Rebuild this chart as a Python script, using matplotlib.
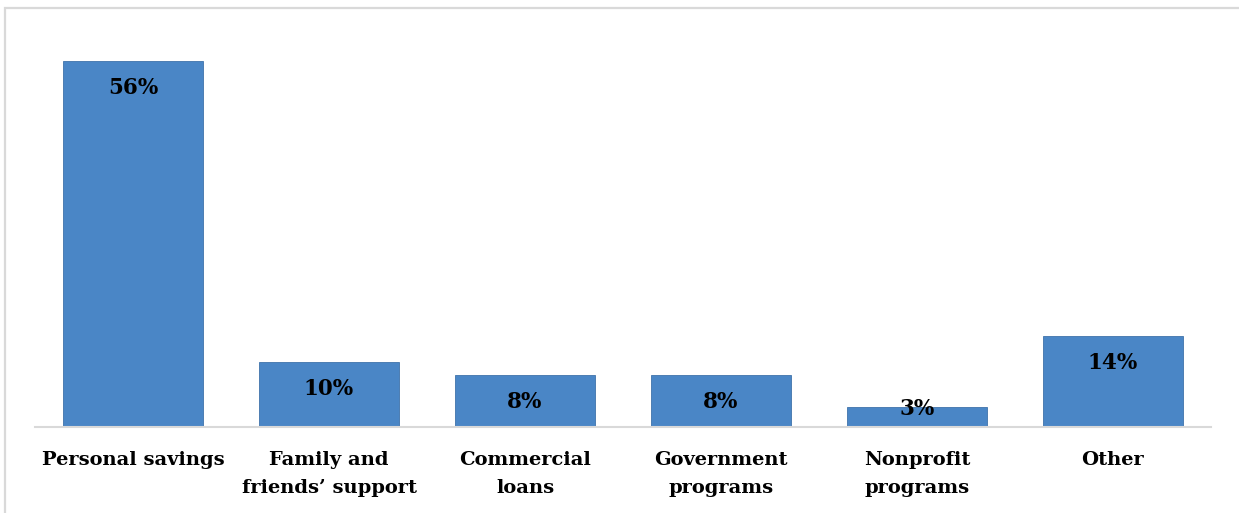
import matplotlib.pyplot as plt
from matplotlib.patches import Rectangle

plt.rcParams['font.family'] = ['DejaVu Serif']

# funding sources and share of respondents (%)
sources = ["Personal savings", "Family and\nfriends\u2019 support", "Commercial\nloans",
           "Government\nprograms", "Nonprofit\nprograms", "Other"]
shares = [56, 10, 8, 8, 3, 14]

bar_color = "#4A86C6"
edge_color = "#3F73AA"
grid_gray = "#D9D9D9"

fig = plt.figure(figsize=(12.39, 5.13), dpi=100)

# light outer frame of the chart area
fig.patches.append(Rectangle((5 / 1239, -0.1), 1.2, (513 - 8) / 513 + 0.1,
                             transform=fig.transFigure, fill=False,
                             edgecolor=grid_gray, linewidth=1.6))

ax = fig.add_axes([35 / 1239, 86 / 513, 1176 / 1239, 392 / 513])
x = range(len(sources))
ax.bar(x, shares, width=0.714, color=bar_color, edgecolor=edge_color, linewidth=0.6)

ax.set_ylim(0, 60)
ax.set_xlim(-0.5, len(sources) - 0.5)

# value labels inside the top of each bar
for i, v in enumerate(shares):
    ax.text(i, max(v - 4.13, 2.75), f"{v}%", ha="center", va="center",
            fontsize=15.5, fontweight="bold", color="black")

ax.set_xticks(list(x))
ax.set_xticklabels(sources, fontsize=14, fontweight="bold", linespacing=1.75)
ax.tick_params(axis="x", length=0, pad=17)
ax.set_yticks([])

for side in ["left", "right", "top"]:
    ax.spines[side].set_visible(False)
ax.spines["bottom"].set_color(grid_gray)
ax.spines["bottom"].set_linewidth(1.5)

fig.savefig("out.png", dpi=100)
